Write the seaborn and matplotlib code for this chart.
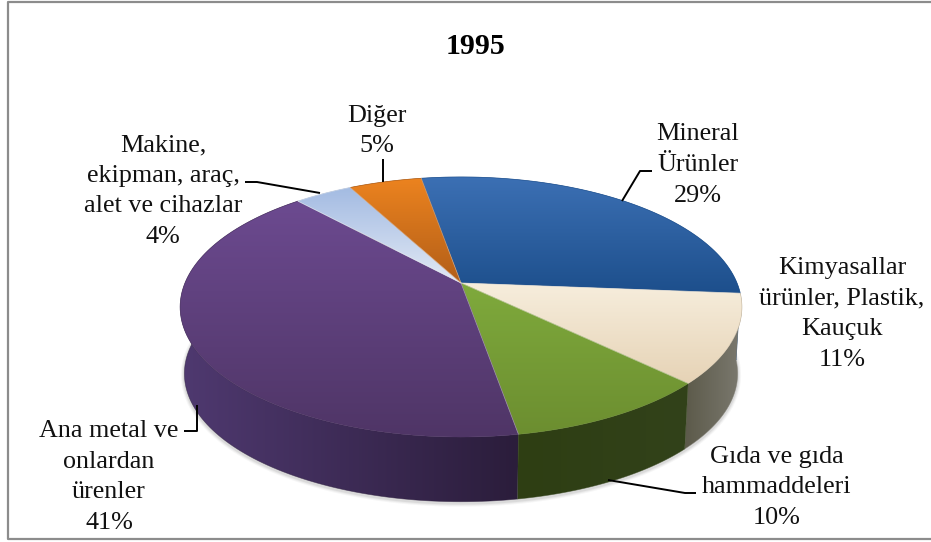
import numpy as np
import matplotlib
matplotlib.use("Agg")
import matplotlib.pyplot as plt
from matplotlib.patches import Polygon
import seaborn as sns

# chart values, clockwise from the first slice
categories = ["Mineral\nÜrünler", "Kimyasallar\nürünler, Plastik,\nKauçuk",
              "Gıda ve gıda\nhammaddeleri", "Ana metal ve\nonlardan\nürenler",
              "Makine,\nekipman, araç,\nalet ve cihazlar", "Diğer"]
values = [29, 11, 10, 41, 4, 5]
title = "1995"

top_colors = [("#3C70B4", "#1D4F8C"), ("#F7EEDD", "#E6D3B6"), ("#7FAA3C", "#6C8E30"),
              ("#6C4A90", "#4F3566"), ("#A3BBE2", "#E2E9F5"), ("#EC831F", "#B25E18")]
wall_colors = [("#1D4F8C", "#1D4F8C"), ("#5C5A4A", "#7C7A70"), ("#2E3E13", "#32421A"),
               ("#4F3970", "#2B1D3B"), ("#8A9BB8", "#8A9BB8"), ("#8A4A12", "#8A4A12")]

label_xy = [(698, 165), (842, 314), (777, 487), (109, 477), (163, 191), (377, 131)]
leaders = [[(652, 171), (640, 171), (622, 201)],
           [(696, 493), (685, 493), (608, 480)],
           [(184, 431), (197, 431), (197, 405)],
           [(245, 182), (257, 182), (320, 193)],
           [(383, 159), (383, 182)]]

start_angle = -9.8
cx, cy = 461, 283
persp, a_x, a_y = 0.1846, 276, 125.6
depth, shrink = 67, 0.985

sns.set_theme(style="white")
plt.rcParams["font.family"] = ["Liberation Serif", "DejaVu Serif"]

fig = plt.figure(figsize=(9.31, 5.42), dpi=100)
ax = fig.add_axes([0, 0, 1, 1])


def rim(theta, lower=False):
    # circle seen in perspective, theta in degrees clockwise from the back
    t = np.radians(theta)
    w = 1 + persp * np.cos(t)
    x = a_x * np.sin(t) / w
    y = -a_y * np.cos(t) / w
    if lower:
        return np.c_[cx + shrink * x, cy + depth + shrink * y]
    return np.c_[cx + x, cy + y]


def fill_gradient(points, c0, c1, horizontal=False, z=1):
    cmap = sns.blend_palette([c0, c1], as_cmap=True)
    grad = np.linspace(0, 1, 256).reshape(-1, 1)
    if horizontal:
        grad = grad.T
    x0, y0 = points.min(axis=0)
    x1, y1 = points.max(axis=0)
    im = ax.imshow(grad, cmap=cmap, extent=(x0, x1, y1, y0), aspect="auto",
                   interpolation="bilinear", zorder=z)
    im.set_clip_path(Polygon(points, transform=ax.transData))
    ax.add_patch(Polygon(points, closed=True, fill=False, edgecolor=c1, lw=0.5,
                         alpha=0.6, zorder=z))


edges = start_angle + np.cumsum([0] + values) * 3.6
slices = list(zip(edges[:-1], edges[1:]))

# soft shadow under the front of the pie
front = rim(np.linspace(85, 290, 200), lower=True)
for lw, al in [(5, 0.05), (3.5, 0.07), (2, 0.1)]:
    ax.plot(front[:, 0], front[:, 1] + 1.5, color="#555555", lw=lw, alpha=al, zorder=1)

# walls, back ones first
for i in [0, 5, 4, 3, 1, 2]:
    arc = np.linspace(slices[i][0], slices[i][1], 120)
    pts = np.vstack([rim(arc), rim(arc[::-1], lower=True)])
    fill_gradient(pts, *wall_colors[i], horizontal=True, z=2)

# top faces
for i, (a, b) in enumerate(slices):
    arc = np.linspace(a, b, 120)
    pts = np.vstack([[cx, cy], rim(arc)])
    fill_gradient(pts, *top_colors[i], z=3)

for a in edges[:-1]:
    p = rim(np.array([a]))[0]
    ax.plot([cx, p[0]], [cy, p[1]], color="white", lw=0.6, alpha=0.35, zorder=4)

for line in leaders:
    xs, ys = zip(*line)
    ax.plot(xs, ys, color="black", lw=1.4, zorder=5, solid_capstyle="butt")

for name, val, (x, y) in zip(categories, values, label_xy):
    ax.text(x, y, f"{name}\n{val}%", ha="center", va="center", fontsize=18.8,
            color="#111111", linespacing=1.5, zorder=6)

ax.text(475, 46, title, ha="center", va="center", fontsize=21.5, fontweight="bold",
        color="black", zorder=6)

# chart frame, open on the right
ax.plot([931, 8, 8, 931], [2, 2, 539, 539], color="#8C8C8C", lw=1.6, zorder=6)

ax.set_xlim(0, 931)
ax.set_ylim(542, 0)
ax.axis("off")
fig.savefig("out.png", dpi=100, facecolor="white")
